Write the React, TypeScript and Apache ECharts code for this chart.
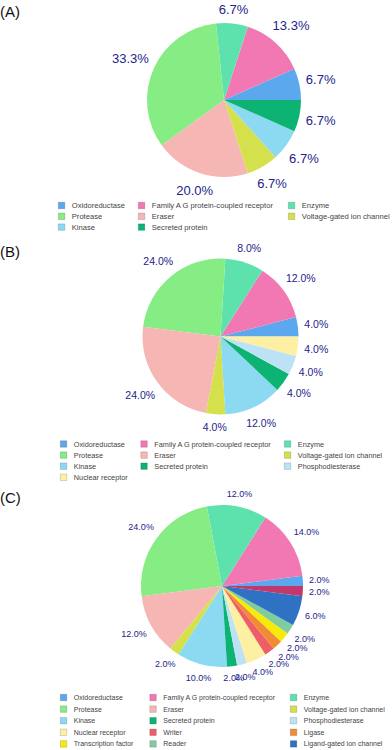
import React, { useEffect, useRef } from "react";
import * as echarts from "echarts";

// ---- data ----
const panelTitles = ["(A)", "(B)", "(C)"];

const namesA = [
  "Oxidoreductase",
  "Family A G protein-coupled receptor",
  "Enzyme",
  "Protease",
  "Eraser",
  "Voltage-gated ion channel",
  "Kinase",
  "Secreted protein",
];
const countsA = [1, 2, 1, 5, 3, 1, 1, 1];

const namesB = [...namesA, "Phosphodiesterase", "Nuclear receptor"];
const countsB = [1, 3, 2, 6, 6, 1, 3, 1, 1, 1];

const namesC = [
  ...namesB,
  "Writer",
  "Ligase",
  "Transcription factor",
  "Reader",
  "Ligand-gated ion channel",
  "Other",
];
const countsC = [1, 7, 6, 12, 6, 1, 5, 1, 1, 2, 1, 1, 1, 1, 3, 1];

// legend entries shown under each pie (row-major, three columns)
const legendA = namesA;
const legendB = namesB;
const legendC = namesC.slice(0, 15);

const colorMap: Record<string, string> = {
  Oxidoreductase: "#5ba8ee",
  "Family A G protein-coupled receptor": "#f278b4",
  Enzyme: "#5ee2ad",
  Protease: "#86ec84",
  Eraser: "#f5b6b4",
  "Voltage-gated ion channel": "#d4e04c",
  Kinase: "#8cd9f2",
  "Secreted protein": "#0cb373",
  Phosphodiesterase: "#bde2f6",
  "Nuclear receptor": "#fdf0a2",
  Writer: "#ef5e66",
  Ligase: "#f08c36",
  "Transcription factor": "#f8ea08",
  Reader: "#80cc9e",
  "Ligand-gated ion channel": "#2f72c4",
  Other: "#c2386c",
};

const FONT = '"Liberation Sans", Arial, sans-serif';
const LABEL_COLOR = "#23238a";

type Panel = {
  names: string[];
  counts: number[];
  legend: string[];
  cx: number;
  cy: number;
  r: number;
  labelSize: number;
  gap: number;
  titleY: number;
  legendCols: number[];
  legendTop: number;
  legendGap: number;
  legendFont: number;
};

const panels: Panel[] = [
  {
    names: namesA, counts: countsA, legend: legendA,
    cx: 224, cy: 100, r: 77, labelSize: 13, gap: 6, titleY: 11,
    legendCols: [58, 138, 288], legendTop: 201.5, legendGap: 2.8, legendFont: 7.6,
  },
  {
    names: namesB, counts: countsB, legend: legendB,
    cx: 220.5, cy: 336.5, r: 78, labelSize: 10.5, gap: 6, titleY: 251,
    legendCols: [60, 140.5, 284], legendTop: 440, legendGap: 3.1, legendFont: 7.3,
  },
  {
    names: namesC, counts: countsC, legend: legendC,
    cx: 222, cy: 586, r: 81, labelSize: 9, gap: 6, titleY: 497,
    legendCols: [60, 149.5, 290], legendTop: 693.5, legendGap: 3.6, legendFont: 7.0,
  },
];

const makeLabelLayout = (cx: number, cy: number, r: number, gap: number) => (params: any) => {
  const pts = params.labelLinePoints;
  const lr = params.labelRect;
  if (!pts || !pts.length || !lr) return {};
  const dx = pts[0][0] - cx;
  const dy = pts[0][1] - cy;
  const L = Math.hypot(dx, dy) || 1;
  const ux = dx / L;
  const uy = dy / L;
  const R = r + gap + (lr.width / 2) * Math.abs(ux) + (lr.height / 2) * Math.abs(uy);
  return { x: cx + ux * R, y: cy + uy * R, align: "center", verticalAlign: "middle" };
};

export default function App() {
  const ref = useRef<HTMLDivElement>(null);

  useEffect(() => {
    if (!ref.current) return;
    const chart = echarts.init(ref.current, undefined, { renderer: "svg" });

    const series: any[] = panels.map((p) => ({
      type: "pie",
      center: [p.cx, p.cy],
      radius: p.r,
      startAngle: 0,
      clockwise: false,
      avoidLabelOverlap: false,
      percentPrecision: 2,
      silent: true,
      label: {
        show: true,
        position: "outside",
        formatter: (d: any) => Number(d.percent).toFixed(1) + "%",
        color: LABEL_COLOR,
        fontSize: p.labelSize,
        fontFamily: FONT,
      },
      labelLine: { show: true, length: 2, length2: 0, lineStyle: { opacity: 0, width: 0 } },
      labelLayout: makeLabelLayout(p.cx, p.cy, p.r, p.gap),
      itemStyle: { borderWidth: 0 },
      emphasis: { disabled: true },
      data: p.names.map((n, i) => ({
        name: n,
        value: p.counts[i],
        itemStyle: { color: colorMap[n] },
      })),
    }));

    const legends: any[] = [];
    panels.forEach((p) => {
      p.legendCols.forEach((left, k) => {
        legends.push({
          orient: "vertical",
          left,
          top: p.legendTop,
          padding: 0,
          itemWidth: 6.5,
          itemHeight: 6.5,
          itemGap: p.legendGap,
          icon: "rect",
          selectedMode: false,
          itemStyle: { borderColor: "rgba(0,0,0,0.25)", borderWidth: 0.6 },
          textStyle: {
            fontSize: p.legendFont,
            lineHeight: 8,
            color: "#444",
            fontFamily: FONT,
            padding: [0, 0, 0, 2],
          },
          data: p.legend.filter((_, i) => i % 3 === k),
        });
      });
    });

    chart.setOption({
      animation: false,
      textStyle: { fontFamily: FONT },
      legend: legends,
      series,
      graphic: panels.map((p, i) => ({
        type: "text",
        x: 0,
        y: p.titleY,
        style: {
          text: panelTitles[i],
          fontSize: 15,
          fontFamily: FONT,
          fill: "#111",
          verticalAlign: "middle",
        },
      })),
    });

    return () => chart.dispose();
  }, []);

  return (
    <div
      ref={ref}
      style={{ position: "fixed", left: 0, top: 0, width: 392, height: 750, background: "#fff" }}
    />
  );
}
